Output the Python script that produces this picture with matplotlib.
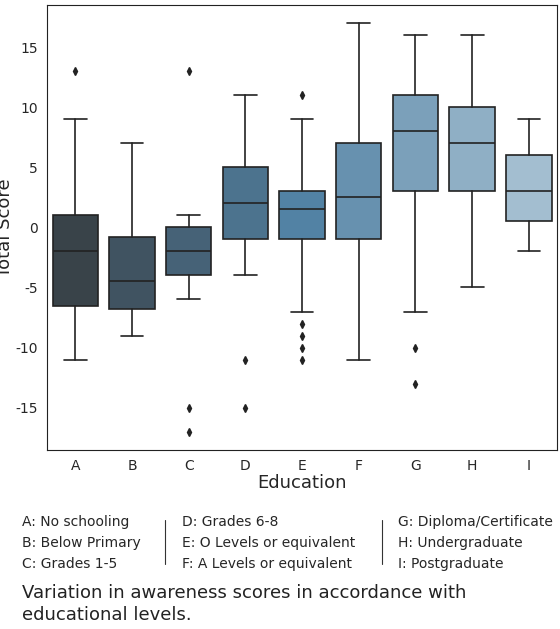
import numpy as np
import matplotlib.pyplot as plt
import seaborn as sns

sns.set_style("white")
plt.rcParams["axes.unicode_minus"] = False

# Education groups and box statistics
categories = ["A", "B", "C", "D", "E", "F", "G", "H", "I"]
whislo = [-11, -9, -6, -4, -7, -11, -7, -5, -2]
q1 = [-6.5, -6.8, -4, -1, -1, -1, 3, 3, 0.5]
med = [-2, -4.5, -2, 2, 1.5, 2.5, 8, 7, 3]
q3 = [1, -0.8, 0, 5, 3, 7, 11, 10, 6]
whishi = [9, 7, 1, 11, 9, 17, 16, 16, 9]
fliers = [[13], [], [13, -15, -17], [-11, -15], [11, -8, -9, -10, -11],
          [], [-10, -13], [], []]

stats = []
for i in range(len(categories)):
    stats.append(dict(label=categories[i], whislo=whislo[i], q1=q1[i], med=med[i],
                      q3=q3[i], whishi=whishi[i], fliers=fliers[i]))

pal = [sns.desaturate(c, 0.6) for c in sns.color_palette("Blues_d", len(categories))[::-1]]

fig = plt.figure(figsize=(5.6, 6.29), dpi=100)
ax = fig.add_axes([0.084, 0.285, 0.911, 0.707])
line = dict(color="#222222", linewidth=1.2)
bp = ax.bxp(stats, positions=range(len(categories)), widths=0.8, patch_artist=True,
            boxprops=dict(edgecolor="#222222", linewidth=1.2),
            medianprops=line, whiskerprops=line, capprops=line,
            flierprops=dict(marker="d", markerfacecolor="#222222",
                            markeredgecolor="#222222", markersize=4))
for patch, c in zip(bp["boxes"], pal):
    patch.set_facecolor(c)
ax.set_xlim(-0.5, len(categories) - 0.5)
ax.set_ylim(-18.5, 18.5)
ax.set_yticks([-15, -10, -5, 0, 5, 10, 15])
ax.set_xticks(range(len(categories)))
ax.set_xticklabels(categories)
ax.tick_params(labelsize=10, pad=3)
ax.set_xlabel("Education", fontsize=13, labelpad=1)
ax.set_ylabel("Total Score", fontsize=13, labelpad=1)
for s in ax.spines.values():
    s.set_color("#222222")

# legend text below the plot
cols = [["A: No schooling", "B: Below Primary", "C: Grades 1-5"],
        ["D: Grades 6-8", "E: O Levels or equivalent", "F: A Levels or equivalent"],
        ["G: Diploma/Certificate", "H: Undergraduate", "I: Postgraduate"]]
xs = [22, 182, 398]
for x0, col in zip(xs, cols):
    for j, t in enumerate(col):
        fig.text(x0 / 560, 1 - (522 + j * 21) / 629, t, fontsize=10, va="center")
for xv in [165, 382]:
    fig.add_artist(plt.Line2D([xv / 560, xv / 560], [1 - 520 / 629, 1 - 564 / 629],
                              color="#333333", linewidth=0.8))
fig.text(22 / 560, 1 - 604 / 629,
         "Variation in awareness scores in accordance with\neducational levels.",
         fontsize=13, va="center", color="#222222", linespacing=1.3)

fig.savefig("out.png", dpi=100)
